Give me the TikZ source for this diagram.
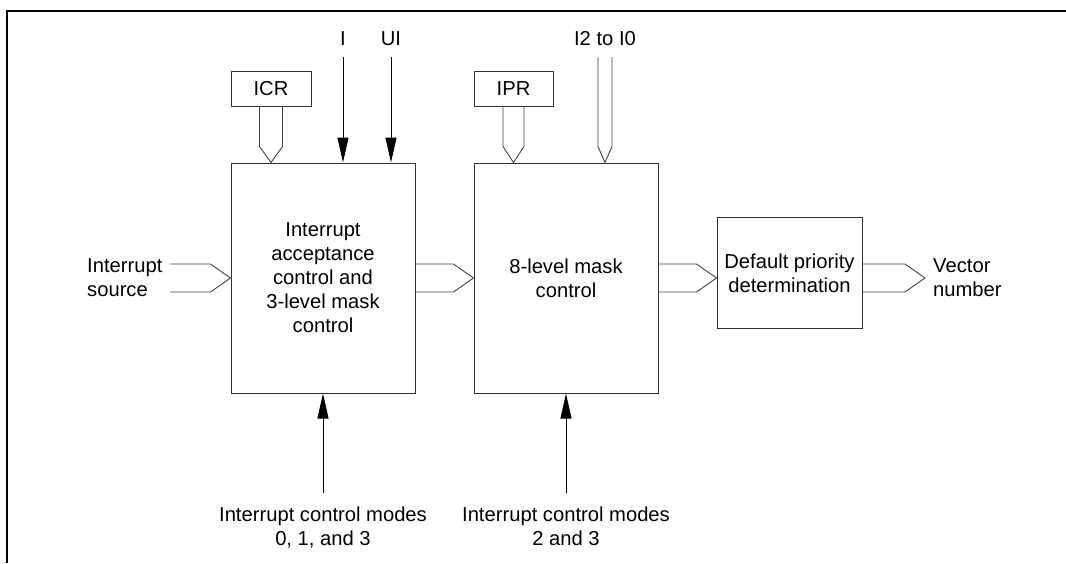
\documentclass[tikz,border=0pt]{standalone}
\usepackage{fontspec}
\setmainfont{Liberation Sans}
\usetikzlibrary{arrows.meta,calc}
\begin{document}
\begin{tikzpicture}[x=1pt,y=-1pt,
  every node/.style={font=\fontsize{20.2}{24}\selectfont, inner sep=0pt},
  blk/.style={draw=black!80, line width=1pt, align=center},
  bus/.style={draw=black!75, line width=0.9pt, line join=miter},
  arr/.style={draw=black, line width=1pt, -{Triangle[length=25pt,width=11pt]}},
  lbl/.style={align=center}]
\useasboundingbox (0,0) rectangle (1066,563);
% frame
\draw[line width=2.2pt] (7,563) -- (7,11) -- (1066,11);
% blocks
\node[blk, minimum width=184pt, minimum height=230pt] (b1) at (323,278)
  {Interrupt\\acceptance\\control and\\3-level mask\\control};
\node[blk, minimum width=184pt, minimum height=230pt] (b2) at (566,278)
  {8-level mask\\control};
\node[blk, minimum width=145pt, minimum height=111pt] (b3) at (789.5,273)
  {Default priority\\determination};
\node[blk, minimum width=80pt, minimum height=35pt] (icr) at (271,88.5) {ICR};
\node[blk, minimum width=79pt, minimum height=35pt] (ipr) at (513.5,88.5) {IPR};
% labels (base = last line)
\node[anchor=base] (li) at (343,45) {I};
\node[anchor=base] (lui) at (391,45) {UI};
\node[anchor=base] (li2) at (605,45) {I2 to I0};
\node[anchor=base west, align=left] (lsrc) at (87,296) {Interrupt\\source};
\node[anchor=base west, align=left] (lvec) at (933,296) {Vector\\number};
\node[anchor=base, lbl] (lm1) at (323,545) {Interrupt control modes\\0, 1, and 3};
\node[anchor=base, lbl] (lm2) at (566,545) {Interrupt control modes\\2 and 3};
% free ends
\coordinate (iin) at (343,57);
\coordinate (uiin) at (391,57);
\coordinate (i2in) at (605,57);
\coordinate (srcend) at (170,278);
\coordinate (vectip) at (925,278);
\coordinate (m1in) at (323,493);
\coordinate (m2in) at (566,493);
% single arrows
\draw[arr] (iin) -- (iin |- b1.north);
\draw[arr] (uiin) -- (uiin |- b1.north);
\draw[arr] (m1in) -- (b1.south);
\draw[arr] (m2in) -- (b2.south);
% bus arrows vertical
\draw[bus] ($(icr.south)+(-11.5,0)$) -- ($(icr.south |- b1.north)+(-11.5,-16)$)
  -- (icr.south |- b1.north) -- ($(icr.south |- b1.north)+(11.5,-16)$) -- ($(icr.south)+(11.5,0)$);
\draw[bus] ($(ipr.south)+(-10.5,0)$) -- ($(ipr.south |- b2.north)+(-10.5,-16)$)
  -- (ipr.south |- b2.north) -- ($(ipr.south |- b2.north)+(10.5,-16)$) -- ($(ipr.south)+(10.5,0)$);
\draw[bus] ($(i2in)+(-7,0)$) -- ($(i2in |- b2.north)+(-7,-16)$)
  -- (i2in |- b2.north) -- ($(i2in |- b2.north)+(7,-16)$) -- ($(i2in)+(7,0)$);
% bus arrows horizontal
\draw[bus] ($(srcend)+(0,-14)$) -- ($(b1.west)+(-20,-14)$) -- (b1.west)
  -- ($(b1.west)+(-20,14)$) -- ($(srcend)+(0,14)$);
\draw[bus] ($(b1.east)+(0,-14)$) -- ($(b2.west)+(-20,-14)$) -- (b2.west)
  -- ($(b2.west)+(-20,14)$) -- ($(b1.east)+(0,14)$);
\draw[bus] ($(b2.east)+(0,-14)$) -- ($(b3.west |- b2.east)+(-20,-14)$) -- (b3.west |- b2.east)
  -- ($(b3.west |- b2.east)+(-20,14)$) -- ($(b2.east)+(0,14)$);
\draw[bus] ($(b3.east |- vectip)+(0,-14)$) -- ($(vectip)+(-20,-14)$) -- (vectip)
  -- ($(vectip)+(-20,14)$) -- ($(b3.east |- vectip)+(0,14)$);
\end{tikzpicture}
\end{document}
